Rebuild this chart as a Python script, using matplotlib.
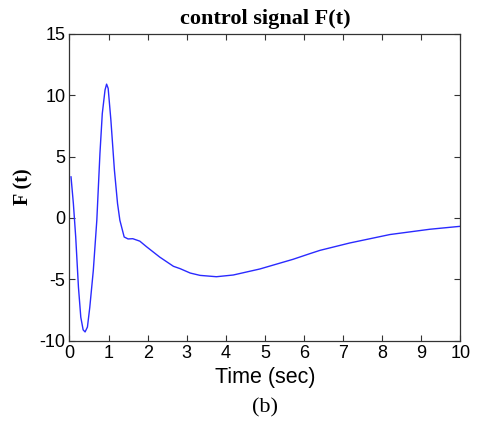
import matplotlib
matplotlib.use("Agg")
import matplotlib.pyplot as plt

plt.rcParams["axes.unicode_minus"] = False

# values
t_sec = [0.04, 0.10, 0.16, 0.23, 0.29, 0.35, 0.40, 0.46, 0.52, 0.61, 0.70,
         0.78, 0.84, 0.91, 0.95, 0.99, 1.06, 1.15, 1.23, 1.29, 1.40, 1.50,
         1.62, 1.80, 1.97, 2.31, 2.66, 2.83, 3.09, 3.34, 3.76, 4.19, 4.87,
         5.72, 6.15, 6.41, 7.17, 8.20, 9.22, 10.0]
force = [3.34, 1.17, -1.56, -5.65, -8.1, -9.13, -9.3, -8.9, -7.3, -4.3, -0.2,
         5.25, 8.5, 10.42, 10.9, 10.56, 7.97, 3.9, 1.17, -0.2, -1.56, -1.72,
         -1.7, -1.9, -2.35, -3.2, -3.95, -4.14, -4.5, -4.69, -4.8, -4.66,
         -4.17, -3.38, -2.92, -2.65, -2.05, -1.36, -0.93, -0.69]
x_ticks = list(range(0, 11))
y_ticks = [-10, -5, 0, 5, 10, 15]

fig = plt.figure(figsize=(4.79, 4.23), dpi=100)
ax = fig.add_axes([0.145, 0.195, 0.816, 0.725])

ax.plot(t_sec, force, color="#2a2aff", linewidth=1.0)

ax.set_xlim(0, 10)
ax.set_ylim(-10, 15)
ax.set_xticks(x_ticks)
ax.set_yticks(y_ticks)
ax.tick_params(direction="in", length=4, width=0.8, top=True, right=True,
               labelsize=13, pad=3, colors="#333333", labelcolor="black")
for lbl in ax.get_xticklabels() + ax.get_yticklabels():
    lbl.set_fontfamily("Liberation Sans")
for s in ax.spines.values():
    s.set_color("#333333")
    s.set_linewidth(0.9)

ax.set_title("control signal F(t)", fontfamily="Liberation Serif",
             fontweight="bold", fontsize=16, pad=7)
ax.set_xlabel("Time (sec)", fontfamily="Liberation Sans", fontsize=15.5,
              labelpad=4)
ax.set_ylabel("F (t)", fontfamily="Liberation Serif", fontweight="bold",
              fontsize=14.5, labelpad=4)

fig.text(265 / 479, 1 - 408 / 423, "(b)", fontfamily="Liberation Serif",
         fontsize=16, ha="center", va="center")

fig.savefig("out.png", dpi=100)
plt.close(fig)
